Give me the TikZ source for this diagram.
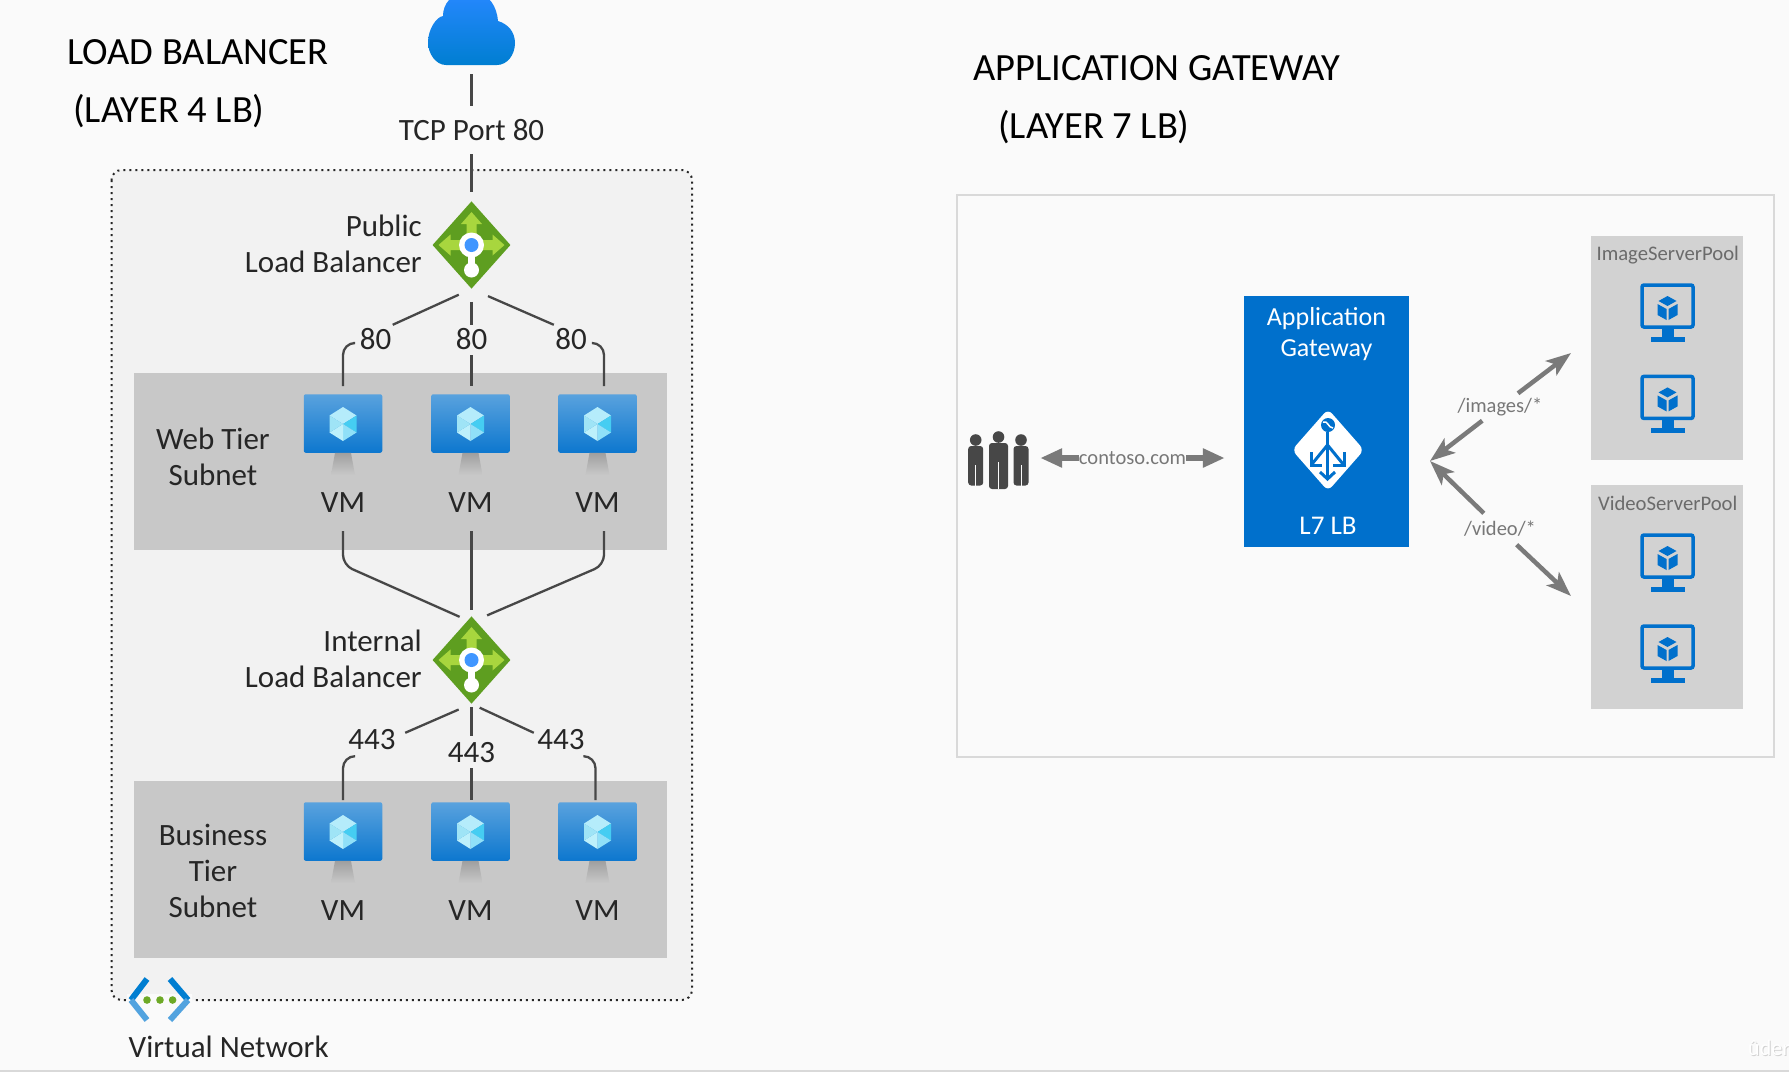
\documentclass[tikz,border=0pt]{standalone}
\usepackage{fontspec}
\setmainfont{Carlito}
\usetikzlibrary{positioning,shapes.geometric,arrows.meta}

% Colours
\definecolor{pagebg}{HTML}{FAFAFA}
\definecolor{vnetbg}{HTML}{F2F2F2}
\definecolor{subnetbg}{HTML}{C8C8C8}
\definecolor{poolbg}{HTML}{D2D2D2}
\definecolor{inktext}{HTML}{262626}
\definecolor{graytext}{HTML}{777777}
\definecolor{arrowgray}{HTML}{7A7A7A}
\definecolor{azureblue}{HTML}{0070CC}
\definecolor{lbgreen}{HTML}{5E9E20}
\definecolor{lblight}{HTML}{A8D63E}

\tikzset{
    title/.style={font=\fontsize{38.5}{42}\selectfont, text=black, inner sep=0pt},
    labtext/.style={font=\fontsize{31}{36}\selectfont, text=inktext, inner sep=0pt},
    portlab/.style={labtext, minimum width=34pt, minimum height=28pt},
    vmlab/.style={labtext, minimum height=56pt},
    conn/.style={draw=inktext!85, line width=2.3pt},
    vmbox/.style={shade, top color=azureblue!65!white, bottom color=azureblue!95!white,
        rounded corners=2pt, minimum width=78.5pt, minimum height=58.5pt, inner sep=0pt},
    lbdiamond/.style={diamond, fill=lbgreen, inner sep=0pt, minimum width=78pt,
        minimum height=87.4pt},
    subnet/.style={fill=subnetbg, minimum width=533pt, minimum height=177pt, inner sep=0pt},
    pool/.style={fill=poolbg, minimum width=152.5pt, minimum height=224pt, inner sep=0pt},
    poollab/.style={font=\fontsize{20.7}{26}\selectfont, text=graytext!90!black, inner sep=0pt},
    routelab/.style={font=\fontsize{20.5}{26}\selectfont, text=graytext, inner sep=0pt},
    garrow/.style={draw=arrowgray, line width=5.5pt, -{Triangle[length=22pt,width=18pt]}},
    gthin/.style={draw=arrowgray, line width=4.5pt, -{Stealth[length=25pt,width=18pt,inset=6pt]}}
}

% VM monitor with the cube, #1 node name
\newcommand{\vmcube}[1]{
    \path (#1.center) ++(0,0.5) coordinate (c);
    \shade[top color=gray!75, bottom color=subnetbg] ([xshift=-8pt]#1.south) -- ([xshift=8pt]#1.south)
        -- ([shift={(12,22)}]#1.south) -- ([shift={(-12,22)}]#1.south) -- cycle;
    \fill[cubetop] (c) -- ++(-13.5,-8.5) -- ++(13.5,-8.5) -- ++(13.5,8.5) -- cycle;
    \fill[cuberight] (c) -- ++(13.5,-8.5) -- ++(0,17) -- cycle;
    \fill[cubelowr] (c) -- ++(13.5,8.5) -- ++(-13.5,8.5) -- cycle;
    \fill[cubelowl] (c) -- ++(0,17) -- ++(-13.5,-8.5) -- cycle;
    \fill[cubeleft] (c) -- ++(-13.5,8.5) -- ++(0,-17) -- cycle;
}
\definecolor{cubetop}{HTML}{B5ECFB}
\definecolor{cuberight}{HTML}{45CDF2}
\definecolor{cubelowr}{HTML}{90E0F8}
\definecolor{cubelowl}{HTML}{BDF0FB}
\definecolor{cubeleft}{HTML}{9FE4F6}

% Balancer glyph on a diamond node
\newcommand{\lbglyph}[1]{
    \path (#1.center) coordinate (c);
    \foreach \a in {0,90,180} {
        \begin{scope}[shift={(c)}, rotate=\a]
            \fill[lblight] (0,-5) -- (21,-5) -- (21,-10.5) -- (33,0) -- (21,10.5) -- (21,5) -- (0,5) -- cycle;
        \end{scope}
    }
    \fill[white] (c) circle (12.5);
    \fill[white] ([xshift=-3.5pt]c) rectangle ([shift={(3.5,20)}]c);
    \fill[white] ([yshift=-25pt]c) circle (7.5);
    \fill[blue!55!cyan!75!white] (c) circle (7);
}

% Small blue monitor in the pools, #1 node name
\newcommand{\poolmon}[1]{
    \path (#1.north) ++(0,25) coordinate (c);
    \draw[azureblue, line width=3.5pt, rounded corners=2pt] ([shift={(-25.5,-23)}]c) rectangle ([shift={(25.5,19)}]c);
    \fill[azureblue] ([shift={(-6,19)}]c) rectangle ([shift={(6,30)}]c);
    \fill[azureblue] ([shift={(-17,29)}]c) rectangle ([shift={(17,34)}]c);
    \fill[azureblue] ([shift={(0,-12)}]c) -- ++(9,5) -- ++(-9,5) -- ++(-9,-5) -- cycle;
    \fill[azureblue] ([shift={(-10,-4)}]c) -- ++(9,5) -- ++(0,11) -- ++(-9,-5) -- cycle;
    \fill[azureblue] ([shift={(10,-4)}]c) -- ++(-9,5) -- ++(0,11) -- ++(9,-5) -- cycle;
}

\begin{document}
\begin{tikzpicture}[x=1pt, y=-1pt]
    % Page
    \fill[pagebg] (0,0) rectangle (1789,1072);
    \fill[gray!30] (0,1070) rectangle (1789,1072);
    \useasboundingbox (0,0) rectangle (1789,1072);

    % Titles
    \node[title, anchor=west] (lbtitle) at (67,52.5) {LOAD BALANCER};
    \node[title, anchor=west] (lbsub) at (73,111) {(LAYER 4 LB)};
    \node[title, anchor=west] (agtitle) at (973,68.5) {APPLICATION GATEWAY};
    \node[title, anchor=west] (agsub) at (998,127) {(LAYER 7 LB)};

    % Virtual network box
    \draw[fill=vnetbg, draw=inktext, line width=2pt, dash pattern=on 2pt off 4pt, rounded corners=10pt]
        (111.5,170) rectangle (692,1000);

    % Subnets
    \node[subnet] (websub) at (400.5,461.5) {};
    \node[subnet] (bizsub) at (400.5,869) {};
    \node[labtext, align=center] (webname) at (213,457) {Web Tier\\Subnet};
    \node[labtext, align=center] (bizname) at (213,871) {Business\\Tier\\Subnet};

    % Cloud
    \shade[top color=blue!55!cyan!85!white, bottom color=azureblue!90!cyan]
        (446,65) .. controls (436,65) and (428,54) .. (428,42)
        .. controls (428,30) and (436,17) .. (443,16)
        .. controls (443,5) and (450,-8) .. (471,-8)
        .. controls (490,-8) and (497,8) .. (498,21)
        .. controls (508,24) and (515,32) .. (515,43)
        .. controls (515,55) and (507,65) .. (497,65) -- cycle;
    \node[inner sep=0pt, minimum width=87pt, minimum height=65pt] (cloud) at (471.5,32.5) {};
    \node[labtext, minimum height=48pt] (tcp) at (471.5,130) {TCP Port 80};

    % Balancers
    \node[lbdiamond] (publb) at (471.5,245) {};
    \lbglyph{publb}
    \node[lbdiamond] (intlb) at (471.5,660) {};
    \lbglyph{intlb}
    \node[labtext, anchor=east, align=right] (pubname) at (422,244) {Public\\Load Balancer};
    \node[labtext, anchor=east, align=right] (intname) at (422,659) {Internal\\Load Balancer};

    % VMs in both tiers
    \foreach \n/\x in {a/343, b/470.5, c/597.5} {
        \node[vmbox] (webvm\n) at (\x,423.5) {};
        \vmcube{webvm\n}
        \node[vmlab] (webvm\n lab) at (\x,503) {VM};
        \node[vmbox] (bizvm\n) at (\x,831.5) {};
        \vmcube{bizvm\n}
        \node[vmlab] (bizvm\n lab) at (\x,911) {VM};
    }

    % Port labels
    \node[portlab] (web80a) at (375.5,339) {80};
    \node[portlab] (web80b) at (471.5,339) {80};
    \node[portlab] (web80c) at (571,339) {80};
    \node[portlab, minimum width=54pt] (biz443a) at (372,740) {443};
    \node[portlab, minimum width=54pt] (biz443b) at (471.5,753) {443};
    \node[portlab, minimum width=54pt] (biz443c) at (561,740) {443};

    % Connectors, top part
    \draw[conn, shorten <=9pt] (cloud.south) -- (tcp.north);
    \draw[conn, shorten >=9pt] (tcp.south) -- (publb.north);
    \draw[conn, shorten <=14pt] (publb.south) -- (web80a.north east);
    \draw[conn, shorten <=13pt] (publb.south) -- (web80b.north);
    \draw[conn, shorten <=18pt] (publb.south) -- (web80c.north west);
    \draw[conn, rounded corners=12pt, shorten <=5pt, shorten >=8pt] ([yshift=-4pt]web80a.west) -| (webvma.north);
    \draw[conn, shorten <=2pt, shorten >=8pt] (web80b.south) -- (web80b.south |- webvmb.north);
    \draw[conn, rounded corners=12pt, shorten <=4pt, shorten >=8pt] ([yshift=-4pt]web80c.east) -| ([xshift=6.5pt]webvmc.north);

    % Connectors, web tier to internal balancer
    \coordinate (bendl) at (343,565);
    \coordinate (bendr) at (604,565);
    \draw[conn, rounded corners=10pt, shorten >=13pt] (webvmalab.south) -- (bendl) -- ([yshift=-6pt]intlb.north);
    \draw[conn, shorten >=6pt] (webvmblab.south -| intlb.north) -- (intlb.north);
    \draw[conn, rounded corners=10pt, shorten >=17pt] ([xshift=6.5pt]webvmclab.south) -- (bendr) -- ([yshift=-6pt]intlb.north);

    % Connectors, bottom part
    \draw[conn, shorten <=14pt] (intlb.south) -- ([shift={(6,7)}]biz443a.north east);
    \draw[conn, shorten <=3pt] (intlb.south) -- ([yshift=3pt]biz443b.north);
    \draw[conn, shorten <=9pt] (intlb.south) -- ([yshift=-7pt]biz443c.north west);
    \draw[conn, rounded corners=12pt, shorten >=2pt] ([shift={(-18,2)}]biz443a.south) -| (bizvma.north);
    \draw[conn, shorten <=1pt, shorten >=2pt] (biz443b.south) -- (biz443b.south |- bizvmb.north);
    \draw[conn, rounded corners=12pt, shorten >=2pt] ([shift={(23,2)}]biz443c.south) -| ([xshift=-2pt]bizvmc.north);

    % Virtual network icon
    \fill[pagebg] (127,994) rectangle (192,1006);
    \draw[azureblue!90!cyan, line width=6pt] (147,979) -- (131,1000);
    \draw[cyan!70!blue!70!white, line width=6pt] (131,1000) -- (147,1020);
    \draw[azureblue!90!cyan, line width=6pt] (170,979) -- (188,1000);
    \draw[cyan!70!blue!70!white, line width=6pt] (188,1000) -- (170,1020);
    \foreach \x in {147,160,172.6} \fill[lbgreen!80!lblight] (\x,1000) circle (3.8);
    \node[labtext, anchor=west] (vnetname) at (128.5,1047) {Virtual Network};

    % Application gateway frame
    \draw[fill=pagebg, draw=gray!30, line width=2pt] (957,195) rectangle (1774,757);

    % Users
    \node[inner sep=0pt, minimum width=61pt, minimum height=58pt] (users) at (998.5,460) {};
    \foreach \x/\hy/\w/\b in {975.7/440/7.5/485.5, 1021/440/7.5/485.5, 998.5/437/9.5/489} {
        \fill[inktext!85] (\x,\hy) circle (5.8);
        \fill[inktext!85, rounded corners=3pt] (\x-\w,\hy+6) rectangle (\x+\w,\b);
        \draw[pagebg, line width=0.8pt] (\x,\hy+25) -- (\x,\b);
    }

    % Gateway block
    \node[fill=azureblue, minimum width=165pt, minimum height=251pt, inner sep=0pt] (agw) at (1326.5,421) {};
    \node[font=\fontsize{26}{31}\selectfont, text=white, align=center, inner sep=0pt, below=12pt of agw.north] (agwname) {Application\\Gateway};
    \node[font=\fontsize{27}{30}\selectfont, text=white, inner sep=0pt] (l7) at (1328,525.6) {L7 LB};
    \fill[white, rounded corners=6pt] (1328,409) -- (1364,450) -- (1328,491) -- (1292,450) -- cycle;
    \fill[azureblue] (1328,425) circle (7);
    \draw[white, line width=1.5pt] (1323,422) .. controls (1328,420) and (1328,428) .. (1333,428);
    \draw[azureblue, line width=3pt] (1327.5,432) -- (1327.5,478);
    \draw[azureblue, line width=3pt] (1327.5,445) -- (1312,464);
    \draw[azureblue, line width=3pt] (1327.5,445) -- (1343,464);
    \draw[azureblue, line width=3pt] (1311,452) -- (1311,465) -- (1322,465);
    \draw[azureblue, line width=3pt] (1344,452) -- (1344,465) -- (1333,465);
    \draw[azureblue, line width=3pt] (1320,472) -- (1327.5,479) -- (1335,472);

    % Server pools
    \node[pool] (imgpool) at (1667.2,348) {};
    \node[pool] (vidpool) at (1667.2,597) {};
    \node[poollab] (imgname) at (1667.7,254.6) {ImageServerPool};
    \node[poollab] (vidname) at (1667.7,503) {VideoServerPool};
    \foreach \n/\y in {mona/283, monb/374.4, monc/533, mond/624} {
        \node[inner sep=0pt, minimum width=55pt, minimum height=59pt, anchor=north] (\n) at (1667.5,\y) {};
        \poolmon{\n}
    }

    % Traffic arrows
    \node[routelab, minimum height=10pt] (contoso) at (1132.5,458) {contoso.com};
    \node[routelab, minimum height=27pt] (imglab) at (1500,407) {/images/*};
    \node[routelab, minimum height=31pt] (vidlab) at (1500,529) {/video/*};
    \coordinate (vtx) at (1430,461);
    \coordinate (imgtip) at (1571,353);
    \coordinate (vidtip) at (1571,596);
    \draw[garrow, shorten >=11pt] (contoso.west) -- (contoso.west -| users.east);
    \draw[garrow, shorten >=19pt] (contoso.east) -- (contoso.east -| agw.west);
    \draw[gthin] (imglab) -- (vtx);
    \draw[gthin] (imglab) -- (imgtip);
    \draw[gthin] (vidlab) -- (vtx);
    \draw[gthin] (vidlab) -- (vidtip);

    % Watermark in the corner
    \node[font=\fontsize{22}{24}\selectfont, text=gray!35, inner sep=0pt, anchor=west] (markshadow) at (1749,1049) {ûder};
    \node[font=\fontsize{22}{24}\selectfont, text=white, inner sep=0pt, anchor=west] (mark) at (1748,1048) {ûder};
\end{tikzpicture}
\end{document}
